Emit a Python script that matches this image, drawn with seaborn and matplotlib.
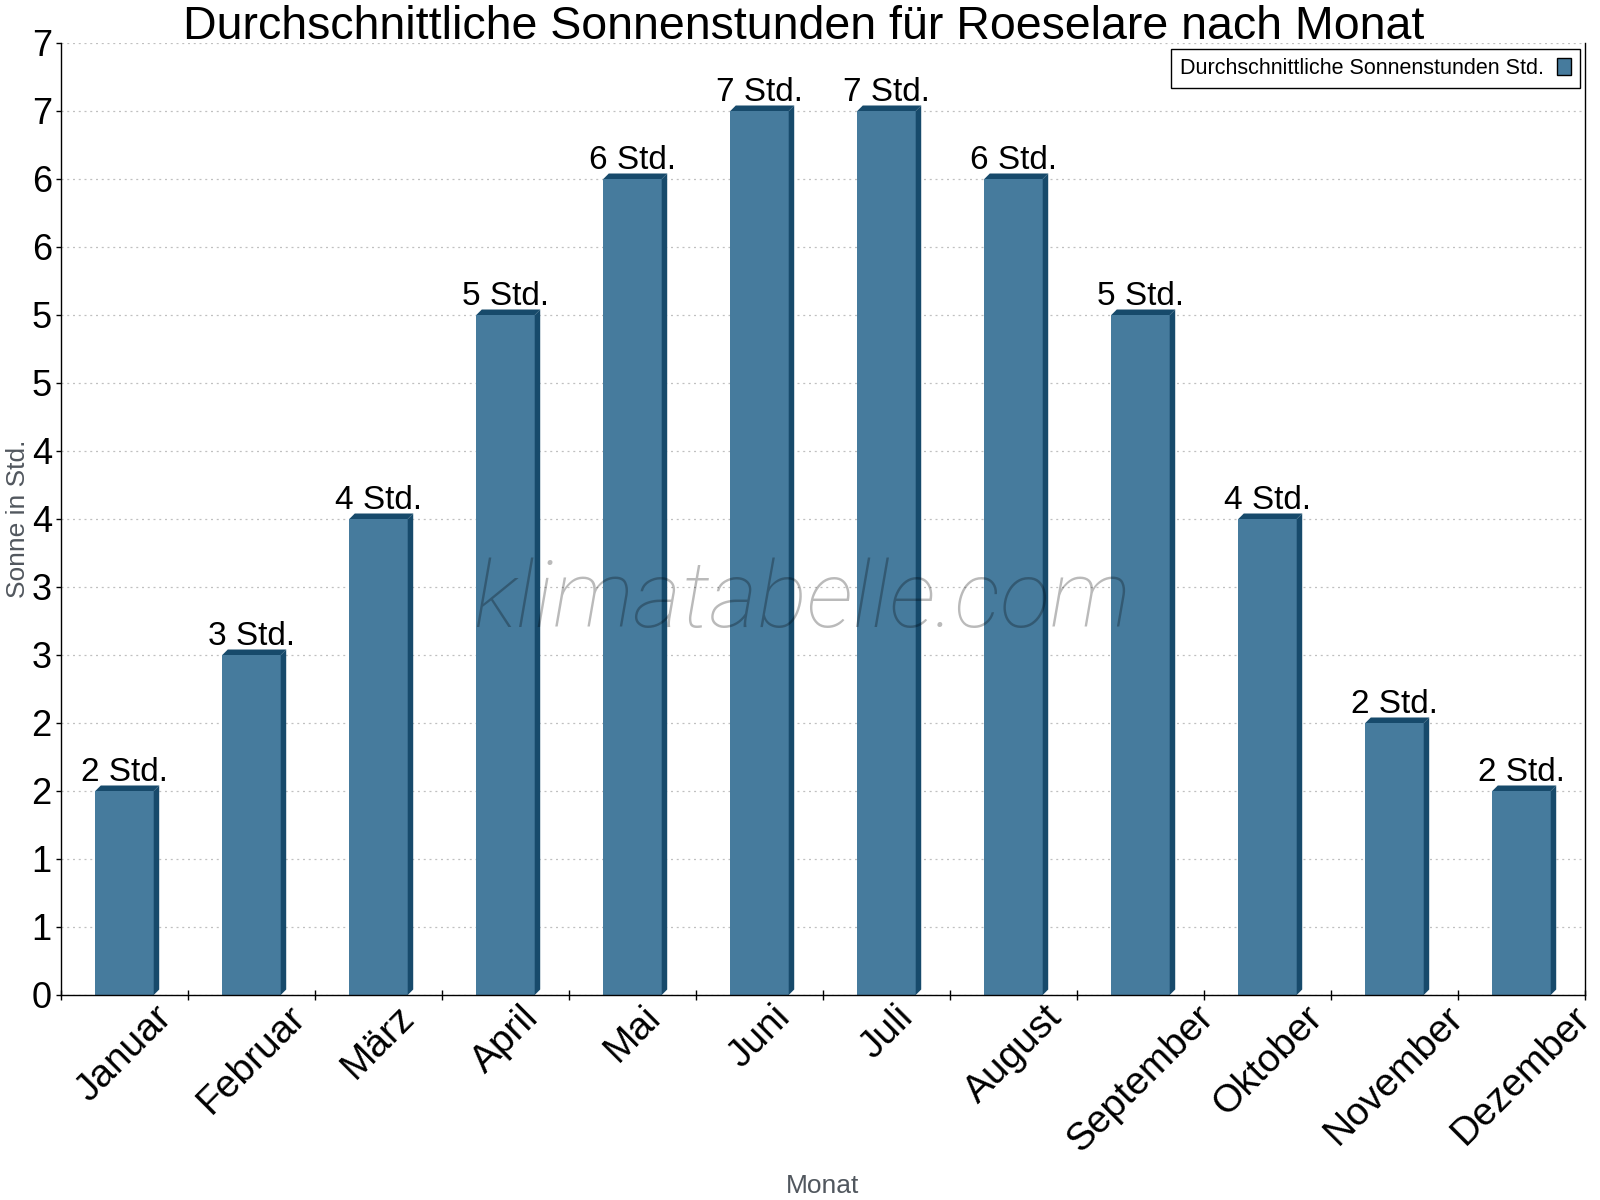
import numpy as np
import pandas as pd
import matplotlib
matplotlib.use("Agg")
import matplotlib.pyplot as plt
import seaborn as sns
from matplotlib.patches import Polygon, Patch

# ---------------- data ----------------
months = ["Januar", "Februar", "März", "April", "Mai", "Juni", "Juli",
          "August", "September", "Oktober", "November", "Dezember"]
sun_hours = [1.5, 2.5, 3.5, 5.0, 6.0, 6.5, 6.5, 6.0, 5.0, 3.5, 2.0, 1.5]
bar_labels = ["2 Std.", "3 Std.", "4 Std.", "5 Std.", "6 Std.", "7 Std.",
              "7 Std.", "6 Std.", "5 Std.", "4 Std.", "2 Std.", "2 Std."]
y_ticks = [0, 0.5, 1, 1.5, 2, 2.5, 3, 3.5, 4, 4.5, 5, 5.5, 6, 6.5, 7]
y_tick_labels = ["0", "1", "1", "2", "2", "3", "3", "4", "4", "5", "5",
                 "6", "6", "7", "7"]
title = "Durchschnittliche Sonnenstunden für Roeselare nach Monat"
legend_label = "Durchschnittliche Sonnenstunden Std."
x_label = "Monat"
y_label = "Sonne in Std."
watermark = "klimatabelle.com"

# ---------------- style ----------------
sns.set_style("white")
plt.rcParams["font.family"] = ["Liberation Sans", "DejaVu Sans"]
plt.rcParams["text.color"] = "black"
plt.rcParams["xtick.color"] = "black"
plt.rcParams["ytick.color"] = "black"

FRONT = "#467b9d"
DARK = "#174a6b"
LABEL_GRAY = "#51575e"

W, H = 1600, 1200
fig = plt.figure(figsize=(16, 12), dpi=100)
ax_l, ax_r, ax_t, ax_b = 61, 1585, 43, 995
ax = fig.add_axes([ax_l / W, 1 - ax_b / H, (ax_r - ax_l) / W, (ax_b - ax_t) / H])

df = pd.DataFrame({"Monat": months, "Sonne": sun_hours})
sns.barplot(data=df, x="Monat", y="Sonne", color=FRONT, saturation=1,
            width=0.46, ax=ax, zorder=2, linewidth=0)

ax.set_xlim(-0.5, 11.5)
ax.set_ylim(0, 7)

# 3D-ish extrusion (top + right side), offsets in pixels converted to data units
d_px = 5.5
dx = d_px * 12 / (ax_r - ax_l)
dy = d_px * 7 / (ax_b - ax_t)
for rect, lab in zip(ax.containers[0], bar_labels):
    x0 = rect.get_x()
    w = rect.get_width()
    h = rect.get_height()
    x1 = x0 + w
    side = Polygon([(x1, 0), (x1, h), (x1 + dx, h + dy), (x1 + dx, dy)],
                   closed=True, facecolor=DARK, edgecolor="none", zorder=2)
    top = Polygon([(x0, h), (x0 + dx, h + dy), (x1 + dx, h + dy), (x1, h)],
                  closed=True, facecolor=DARK, edgecolor="none", zorder=2)
    ax.add_patch(side)
    ax.add_patch(top)
    ax.annotate(lab, xy=(x0 + w / 2, h), xytext=(0, 7.2),
                textcoords="offset points", ha="center", va="baseline",
                fontsize=24, color="black", zorder=4)

# grid
ax.set_axisbelow(True)
ax.yaxis.grid(True, color="#c0c0c0", linestyle=(0, (1.6, 3.0)), linewidth=0.9)
ax.xaxis.grid(False)

# y axis
ax.set_yticks(y_ticks)
ax.set_yticklabels(y_tick_labels)
ax.tick_params(axis="y", which="major", direction="out", length=3.6, width=1,
               color="black", labelcolor="black", labelsize=26, pad=3,
               left=True, right=False)

# x axis: labels at centers, tick marks at boundaries
ax.set_xticks(range(len(months)))
ax.set_xticklabels(months)
ax.set_xticks(np.arange(-0.5, 12, 1.0), minor=True)
ax.tick_params(axis="x", which="major", length=0, labelsize=28,
               labelcolor="black", pad=3)
ax.tick_params(axis="x", which="minor", direction="inout", length=7,
               width=1, color="black", bottom=True)
for t in ax.get_xticklabels():
    t.set_rotation(45)
    t.set_ha("center")
    t.set_va("top")

# spines
for s in ["left", "bottom", "right"]:
    ax.spines[s].set_visible(True)
    ax.spines[s].set_color("black")
    ax.spines[s].set_linewidth(1)
ax.spines["top"].set_visible(False)

# axis labels
ax.set_xlabel(x_label, fontsize=19, color=LABEL_GRAY, va="baseline")
ax.xaxis.set_label_coords(0.5, (ax_b - 1193) / (ax_b - ax_t))
ax.set_ylabel(y_label, fontsize=19, color=LABEL_GRAY, va="baseline")
ax.yaxis.set_label_coords((25 - ax_l) / (ax_r - ax_l), 0.5)

# legend
handle = Patch(facecolor=FRONT, edgecolor="black", linewidth=1)
leg = fig.legend([handle], [legend_label], loc="upper right",
                 bbox_to_anchor=(1580 / W, 1 - 49 / H), fontsize=15.5,
                 markerfirst=False, frameon=True, fancybox=False, shadow=False,
                 borderpad=0.42, handlelength=0.65, handleheight=0.8,
                 handletextpad=0.6, borderaxespad=0)
leg.get_frame().set_edgecolor("black")
leg.get_frame().set_linewidth(1)
leg.get_frame().set_facecolor("white")
leg.get_frame().set_alpha(1)
for t in leg.get_texts():
    t.set_color("black")

# title
fig.text(0.5025, 1 - 39 / H, title, ha="center", va="baseline", fontsize=33.5,
         color="black")

# watermark
fig.text(802 / W, 1 - 627 / H, watermark, ha="center", va="baseline",
         fontsize=67, family=["Roboto", "DejaVu Sans"], style="italic",
         weight="light", color="black", alpha=0.27, zorder=10)

fig.savefig("out.png", dpi=100)
